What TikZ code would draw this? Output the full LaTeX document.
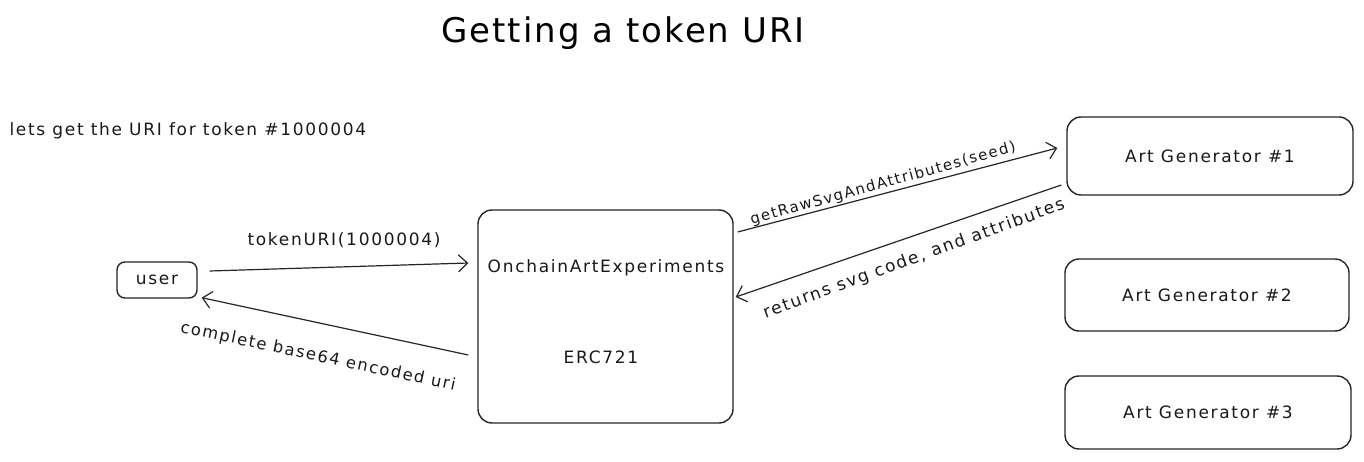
\documentclass[tikz,border=0pt]{standalone}
\usepackage{fontspec}
\setmainfont{DejaVu Sans}
\newfontfamily\handfont[LetterSpace=10]{DejaVu Sans}
\newfontfamily\titlefont[LetterSpace=6]{DejaVu Sans}
\usetikzlibrary{arrows.meta,calc}
\begin{document}
\begin{tikzpicture}[x=1pt,y=-1pt,
  box/.style={draw=black!85,line width=1.4pt,rounded corners=14pt,fill=white,inner sep=0pt},
  lbl/.style={font=\handfont\fontsize{17}{20}\selectfont,text=black!90},
  conn/.style={draw=black!85,line width=1.2pt,-{Straight Barb[length=9pt,width=17pt,line width=1.2pt]}}]
\useasboundingbox[fill=white] (0,0) rectangle (1364,462);
\node[font=\titlefont\fontsize{34}{40}\selectfont] (title) at (623,33) {Getting a token URI};
\node[lbl,anchor=west] (intro) at (6,131) {lets get the URI for token \#1000004};
\node[box,rounded corners=8pt,minimum width=80pt,minimum height=36pt,lbl] (user) at (157,280) {user};
\node[box,minimum width=255pt,minimum height=213pt] (chain) at (605.5,316.5) {};
\node[lbl] (chainname) at (606,268) {OnchainArtExperiments};
\node[lbl] (erc) at (601,357) {ERC721};
\node[box,minimum width=286pt,minimum height=78pt,lbl] (gen1) at (1210,156) {Art Generator \#1};
\node[box,minimum width=284pt,minimum height=72pt,lbl] (gen2) at (1207,295) {Art Generator \#2};
\node[box,minimum width=286pt,minimum height=73pt,lbl] (gen3) at (1208,412.5) {Art Generator \#3};
\draw[conn] ($(user.east)+(12,-9)$) -- ($(chain.west)+(-9,-53.5)$);
\draw[conn] ($(chain.west)+(-9,38.5)$) -- ($(user.south east)+(4,-1)$);
\draw[conn] ($(chain.east)+(4,-84.5)$) -- ($(gen1.west)+(-9,-8)$);
\draw[conn] ($(gen1.west)+(-5,29)$) -- ($(chain.east)+(2,-19.5)$);
\node[lbl] (l1) at (344,240) {tokenURI(1000004)};
\node[lbl,rotate=-12,scale=0.96] (l2) at (318,357) {complete base64 encoded uri};
\node[lbl,rotate=15.5,scale=0.88] (l3) at (883,184) {getRawSvgAndAttributes(seed)};
\node[lbl,rotate=20] (l4) at (914,259) {returns svg code, and attributes};
\end{tikzpicture}
\end{document}
